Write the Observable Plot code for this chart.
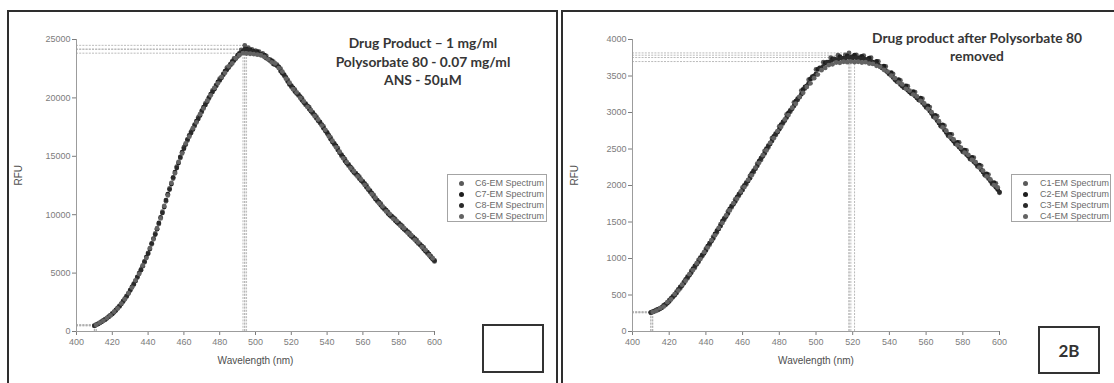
<!DOCTYPE html>
<html>
<head>
<meta charset="utf-8">
<script src="https://cdn.jsdelivr.net/npm/d3@7"></script>
<script src="https://cdn.jsdelivr.net/npm/@observablehq/plot@0.6"></script>
<style>
  html, body { margin: 0; padding: 0; background: #fff; }
  body { position: relative; width: 1114px; height: 383px; overflow: hidden;
         font-family: Arial, "Liberation Sans", sans-serif; }
  .frame { position: absolute; box-sizing: border-box; border: 2px solid #2e2e2e; }
  .chart { position: absolute; top: 0; }
  .title { position: absolute; text-align: center; font-family: Lato, "Open Sans", sans-serif;
           font-weight: 700; font-size: 13.8px; line-height: 18.5px; color: #363636; }
  .legend { position: absolute; box-sizing: border-box; width: 100px; height: 48px;
            border: 1px solid #a4a4a4; background: #fff; padding-top: 3px; }
  .legend .row { position: relative; height: 11px; font-size: 9px; line-height: 11px; color: #6a6a6a; white-space: nowrap; }
  .legend .sw { position: absolute; top: 3px; width: 5px; height: 5px; border-radius: 50%; }
  .legend .lb { position: absolute; top: 0; }
  .tag { position: absolute; box-sizing: border-box; border: 2px solid #333; background: #fff;
         display: flex; align-items: center; justify-content: center;
         font-family: Lato, "Open Sans", sans-serif; font-weight: 700; font-size: 17px; color: #333; }
</style>
</head>
<body>
<div class="frame" style="left:7px;top:10px;width:551px;height:380px;"></div>
<div class="frame" style="left:561px;top:10px;width:560px;height:380px;"></div>
<div id="chartA" class="chart" style="left:0px;"></div>
<div id="chartB" class="chart" style="left:556px;"></div>
<div class="title" style="left:273px;top:34px;width:300px;">Drug Product – 1 mg/ml<br>Polysorbate 80 - 0.07 mg/ml<br>ANS - 50µM</div>
<div class="title" style="left:827px;top:29px;width:300px;line-height:18px;">Drug product after Polysorbate 80<br>removed</div>
<div id="legendA" class="legend" style="left:447px;top:174px;"></div>
<div id="legendB" class="legend" style="left:1011px;top:174px;"></div>
<div class="tag" style="left:482px;top:324px;width:62px;height:49px;"></div>
<div class="tag" style="left:1038px;top:326px;width:62px;height:48px;">2B</div>
<script>
// Emission wavelengths (nm): readings alternate between the even and odd grid
const evenNm = d3.range(410, 601, 2);   // 410, 412, ... 600
const oddNm  = d3.range(411, 600, 2);   // 411, 413, ... 599

// Panel A: drug product with Polysorbate 80 and ANS (RFU)
const c6 = [
  480, 660, 820, 1050, 1250, 1540, 1800, 2190, 2550, 3050,
  3500, 4090, 4620, 5310, 5930, 6740, 7460, 8400, 9200, 10260,
  11150, 12260, 13100, 14120, 14850, 15780, 16350, 17120, 17600, 18330,
  18800, 19520, 19950, 20640, 21000, 21650, 21950, 22580, 22800, 23380,
  23550, 24100, 24500, 24300, 24150, 24050, 23950, 23800, 23600, 23300,
  23100, 22850, 22500, 21900, 21550, 20950, 20700, 20200, 19950, 19400,
  19200, 18650, 18400, 17850, 17550, 16950, 16600, 16000, 15700, 15050,
  14750, 14200, 13950, 13450, 13250, 12750, 12500, 11950, 11700, 11150,
  10950, 10450, 10250, 9800, 9650, 9200, 9050, 8600, 8450, 8000,
  7850, 7400, 7200, 6700, 6450, 6000
];
const c7 = [
  590, 720, 950, 1130, 1410, 1650, 2020, 2350, 2820, 3250,
  3820, 4330, 5000, 5590, 6370, 7060, 7960, 8760, 9770, 10650,
  11750, 12620, 13650, 14420, 15350, 16000, 16780, 17300, 18000, 18500,
  19200, 19680, 20330, 20750, 21360, 21720, 22300, 22600, 23120, 23380,
  23820, 23980, 24170, 24120, 23980, 23950, 23720, 23650, 23320, 23180,
  22850, 22650, 22100, 21750, 21150, 20850, 20380, 20100, 19600, 19320,
  18850, 18550, 18050, 17720, 17180, 16800, 16220, 15880, 15300, 14920,
  14400, 14100, 13620, 13380, 12920, 12650, 12150, 11850, 11350, 11080,
  10620, 10380, 9950, 9750, 9350, 9150, 8750, 8550, 8150, 7950,
  7540, 7300, 6880, 6620, 6180
];
const c8 = [
  510, 640, 850, 1010, 1280, 1500, 1840, 2150, 2600, 3000,
  3550, 4030, 4680, 5250, 6000, 6660, 7550, 8300, 9300, 10150,
  11250, 12150, 13200, 14000, 14950, 15650, 16450, 17000, 17700, 18200,
  18900, 19400, 20050, 20500, 21100, 21500, 22050, 22400, 22900, 23200,
  23650, 23850, 24170, 24100, 23950, 23900, 23750, 23650, 23400, 23200,
  22900, 22750, 22300, 22000, 21400, 21050, 20550, 20300, 19800, 19500,
  19050, 18750, 18250, 17950, 17400, 17050, 16450, 16100, 15550, 15150,
  14600, 14300, 13800, 13550, 13100, 12850, 12350, 12050, 11550, 11250,
  10800, 10550, 10100, 9900, 9500, 9300, 8900, 8700, 8300, 8100,
  7700, 7450, 7050, 6800, 6350, 6080
];
const c9 = [
  560, 755, 910, 1160, 1370, 1690, 1970, 2390, 2770, 3290,
  3760, 4380, 4930, 5650, 6290, 7140, 7890, 8840, 9680, 10750,
  11650, 12720, 13550, 14520, 15250, 16100, 16680, 17400, 17900, 18600,
  19100, 19760, 20220, 20850, 21250, 21800, 22150, 22700, 22950, 23400,
  23650, 23830, 23800, 23780, 23750, 23700, 23650, 23500, 23300, 23050,
  22950, 22550, 22250, 21650, 21300, 20750, 20470, 20000, 19700, 19230,
  18950, 18450, 18150, 17630, 17270, 16700, 16330, 15770, 15400, 14830,
  14500, 14000, 13720, 13280, 13020, 12550, 12250, 11750, 11450, 10970,
  10720, 10280, 10050, 9650, 9450, 9050, 8850, 8450, 8250, 7850,
  7630, 7220, 6970, 6530, 6270
];

// Panel B: drug product after Polysorbate 80 removal (RFU)
const c1 = [
  255, 282, 296, 335, 362, 428, 468, 545, 590, 680,
  728, 830, 875, 980, 1030, 1135, 1190, 1300, 1355, 1470,
  1530, 1645, 1700, 1810, 1860, 1975, 2015, 2130, 2180, 2300,
  2350, 2475, 2520, 2650, 2690, 2810, 2850, 2975, 3010, 3140,
  3170, 3300, 3330, 3450, 3470, 3590, 3600, 3690, 3670, 3750,
  3720, 3785, 3740, 3790, 3816, 3770, 3790, 3760, 3780, 3730,
  3750, 3680, 3700, 3620, 3630, 3530, 3530, 3430, 3440, 3340,
  3360, 3260, 3280, 3170, 3190, 3070, 3075, 2940, 2950, 2810,
  2820, 2680, 2700, 2570, 2590, 2460, 2480, 2360, 2380, 2260,
  2270, 2140, 2150, 2020, 2030, 1900
];
const c2 = [
  272, 295, 310, 358, 388, 455, 498, 578, 628, 715,
  770, 862, 920, 1012, 1072, 1170, 1235, 1338, 1405, 1510,
  1575, 1680, 1742, 1842, 1902, 2002, 2062, 2165, 2230, 2335,
  2400, 2505, 2570, 2672, 2730, 2835, 2890, 2995, 3050, 3155,
  3210, 3315, 3365, 3460, 3500, 3590, 3610, 3680, 3690, 3735,
  3725, 3765, 3745, 3775, 3755, 3785, 3740, 3770, 3725, 3745,
  3690, 3700, 3630, 3635, 3550, 3545, 3450, 3450, 3360, 3365,
  3280, 3285, 3200, 3195, 3105, 3090, 2985, 2960, 2855, 2830,
  2725, 2700, 2605, 2590, 2500, 2485, 2400, 2385, 2300, 2280,
  2185, 2160, 2065, 2040, 1945
];
const c3 = [
  262, 276, 305, 325, 375, 412, 482, 528, 610, 662,
  750, 805, 900, 955, 1050, 1110, 1210, 1275, 1380, 1445,
  1550, 1615, 1720, 1780, 1880, 1940, 2040, 2100, 2205, 2270,
  2375, 2440, 2545, 2610, 2710, 2770, 2870, 2930, 3030, 3090,
  3190, 3250, 3350, 3400, 3490, 3530, 3610, 3630, 3690, 3695,
  3735, 3725, 3745, 3740, 3753, 3745, 3750, 3735, 3740, 3715,
  3700, 3670, 3650, 3610, 3575, 3525, 3480, 3425, 3385, 3340,
  3305, 3260, 3225, 3175, 3135, 3075, 3020, 2950, 2890, 2820,
  2760, 2690, 2635, 2575, 2525, 2470, 2425, 2370, 2325, 2270,
  2215, 2150, 2095, 2030, 1975, 1910
];
const c4 = [
  266, 284, 320, 342, 402, 440, 512, 560, 642, 695,
  785, 842, 935, 992, 1088, 1150, 1250, 1318, 1420, 1488,
  1590, 1658, 1758, 1820, 1918, 1978, 2078, 2140, 2245, 2310,
  2415, 2480, 2585, 2648, 2745, 2805, 2905, 2965, 3065, 3120,
  3215, 3270, 3350, 3400, 3470, 3520, 3580, 3610, 3650, 3660,
  3685, 3680, 3695, 3690, 3698, 3690, 3695, 3685, 3690, 3670,
  3665, 3640, 3625, 3585, 3560, 3505, 3470, 3410, 3385, 3325,
  3300, 3245, 3220, 3160, 3125, 3050, 3005, 2925, 2880, 2795,
  2750, 2665, 2630, 2555, 2520, 2450, 2420, 2350, 2320, 2245,
  2205, 2125, 2085, 2005, 1975
];

const seriesA = [
  { name: "C6-EM Spectrum", nm: evenNm, values: c6, color: "#5a5a5a" },
  { name: "C7-EM Spectrum", nm: oddNm,  values: c7, color: "#1e1e1e" },
  { name: "C8-EM Spectrum", nm: evenNm, values: c8, color: "#2a2a2a" },
  { name: "C9-EM Spectrum", nm: oddNm,  values: c9, color: "#636363" }
];
const seriesB = [
  { name: "C1-EM Spectrum", nm: evenNm, values: c1, color: "#5a5a5a" },
  { name: "C2-EM Spectrum", nm: oddNm,  values: c2, color: "#1e1e1e" },
  { name: "C3-EM Spectrum", nm: evenNm, values: c3, color: "#2a2a2a" },
  { name: "C4-EM Spectrum", nm: oddNm,  values: c4, color: "#636363" }
];

const yTicksA = [0, 5000, 10000, 15000, 20000, 25000];
const yTicksB = [0, 500, 1000, 1500, 2000, 2500, 3000, 3500, 4000];
const xTicks  = [400, 420, 440, 460, 480, 500, 520, 540, 560, 580, 600];

function points(s) {
  return s.values.map((v, i) => ({ nm: s.nm[i], v }));
}

function spectrumChart(series, yTicks, width, marginRight) {
  const yMax = d3.max(yTicks);
  // drop lines to the axes from each series' first reading and its peak
  const guides = series.flatMap(s => {
    const pts = points(s);
    return [pts[0], pts[d3.maxIndex(pts, p => p.v)]];
  });
  const guideStyle = { stroke: "#a9a9a9", strokeWidth: 0.8, strokeDasharray: "2,1.2" };
  return Plot.plot({
    width, height: 383,
    marginLeft: 76, marginRight, marginTop: 39, marginBottom: 52,
    style: { fontFamily: "Arial, 'Liberation Sans', sans-serif", fontSize: "9px", color: "#7c7c7c", background: "transparent" },
    x: { domain: [400, 600], ticks: xTicks, tickSize: 4, tickPadding: 3, label: null },
    y: { domain: [0, yMax], ticks: yTicks, tickSize: 4, tickPadding: 2, label: null, tickFormat: d3.format("d") },
    marks: [
      Plot.ruleY(guides, { y: "v", x1: 400, x2: "nm", ...guideStyle }),
      Plot.ruleX(guides, { x: "nm", y1: 0, y2: "v", ...guideStyle }),
      Plot.ruleX([400], { y1: 0, y2: yMax, stroke: "#9c9c9c" }),
      Plot.ruleY([0], { x1: 400, x2: 600, stroke: "#9c9c9c" }),
      ...series.map(s => Plot.dot(points(s), { x: "nm", y: "v", r: 2.4, fill: s.color })),
      Plot.text(["Wavelength (nm)"], { text: d => d, frameAnchor: "bottom", dy: 32, fontSize: 10, fill: "#4e4e4e" }),
      Plot.text(["RFU"], { text: d => d, frameAnchor: "left", dx: -58, rotate: -90, fontSize: 10, fill: "#4e4e4e" })
    ]
  });
}

function legend(el, series, swX, textX) {
  const box = document.querySelector(el);
  for (const s of series) {
    const row = document.createElement("div");
    row.className = "row";
    const sw = document.createElement("span");
    sw.className = "sw";
    sw.style.left = (swX - 2.5) + "px";
    sw.style.background = s.color;
    const lb = document.createElement("span");
    lb.className = "lb";
    lb.style.left = textX + "px";
    lb.textContent = s.name;
    row.append(sw, lb);
    box.append(row);
  }
}

document.querySelector("#chartA").append(spectrumChart(seriesA, yTicksA, 560, 126));
document.querySelector("#chartB").append(spectrumChart(seriesB, yTicksB, 558, 115));
legend("#legendA", seriesA, 13, 27);
legend("#legendB", seriesB, 13, 28);
</script>
</body>
</html>
